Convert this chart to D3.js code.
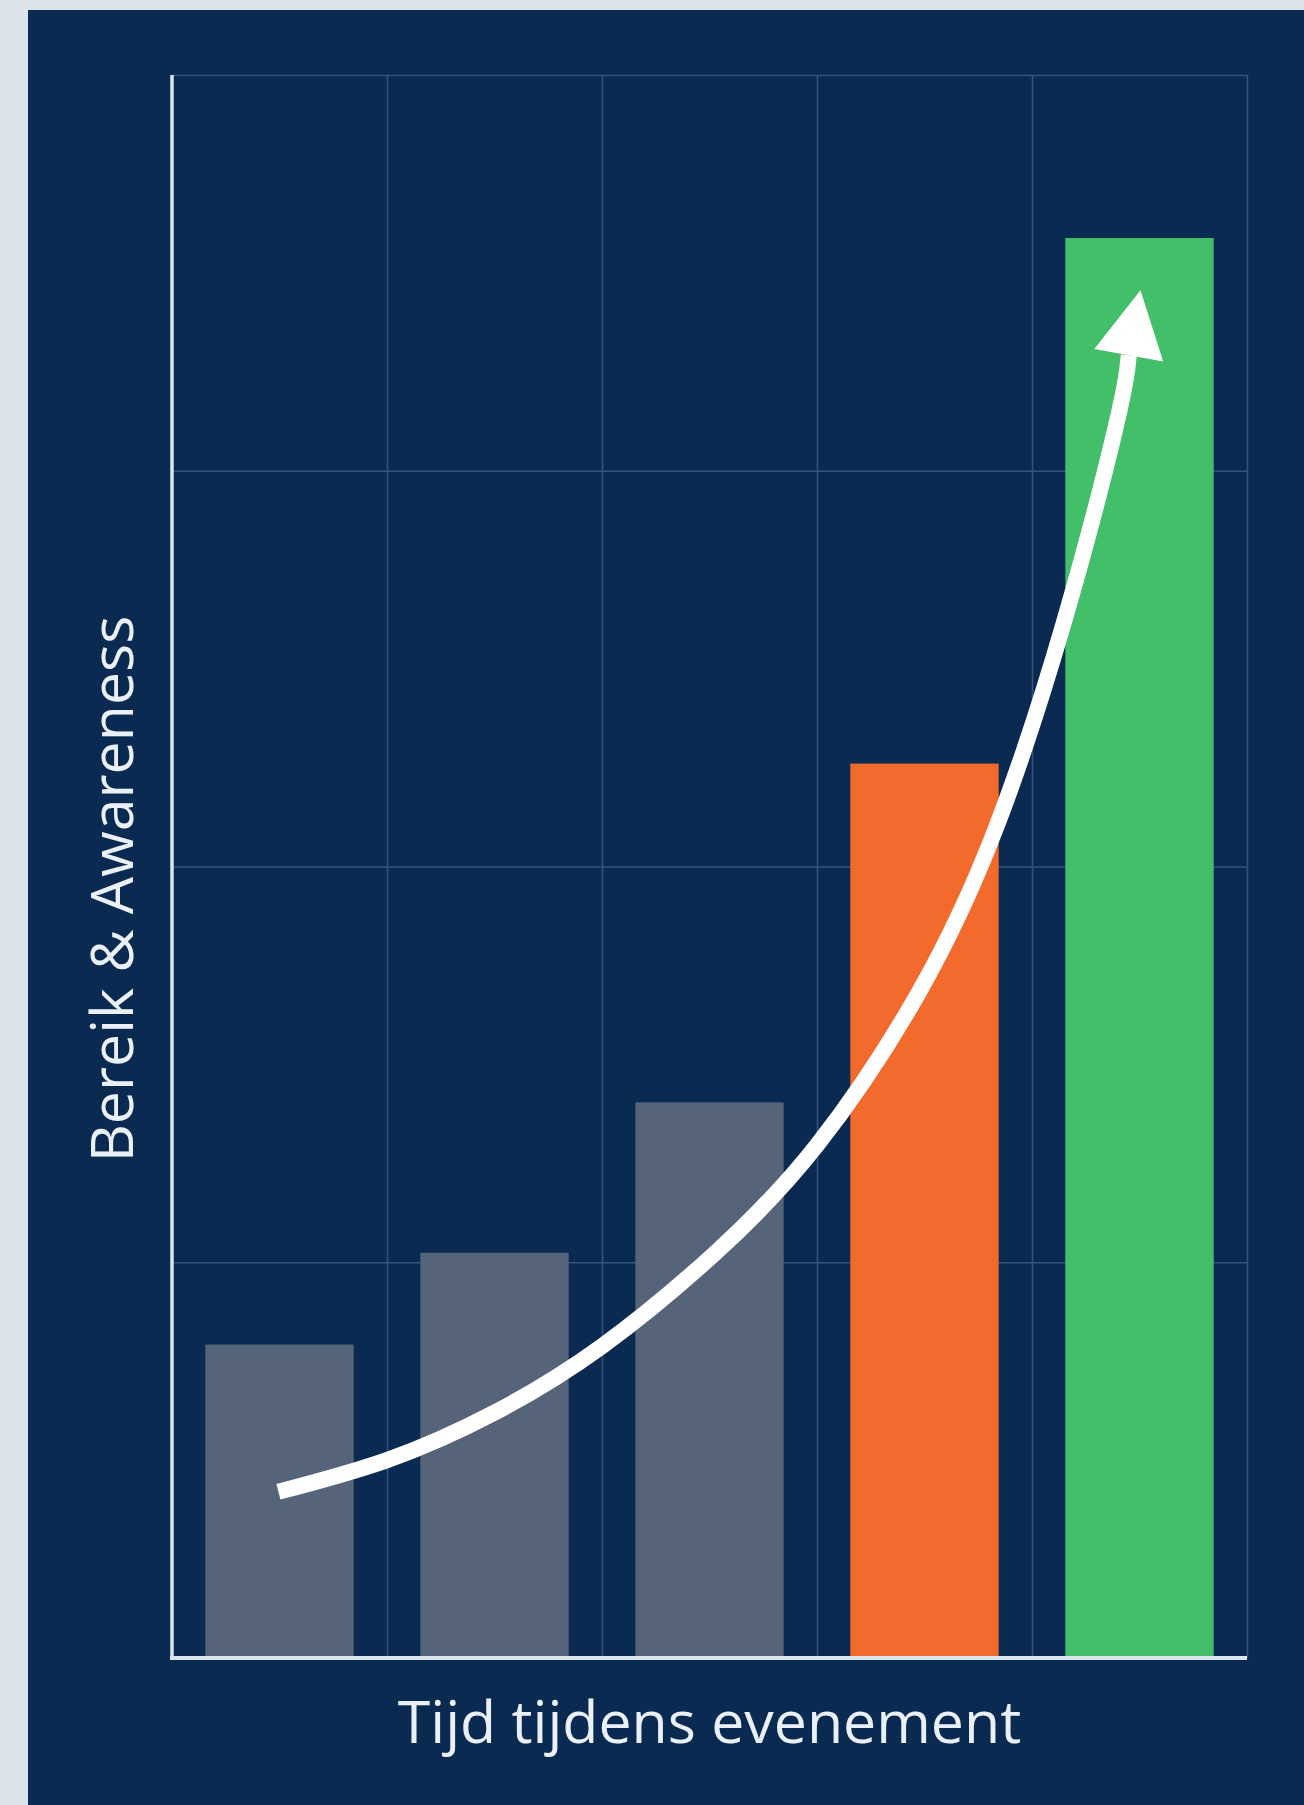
<!DOCTYPE html>
<html>
<head>
<meta charset="utf-8">
<style>
    body { margin: 0; background: #dde3ea; }
    svg { display: block; }
</style>
</head>
<body>
    <div class="graph"></div>

    <script src="https://d3js.org/d3.v7.min.js"></script>
    <script>
        // data
        var categories = ['Fase 1', 'Fase 2', 'Fase 3', 'Fase 4', 'Fase 5']
        var values = [19.8, 25.6, 35.1, 56.5, 89.7]
        var barColors = ['#566479', '#566479', '#566479', '#f26b2d', '#43bf69']
        var yTicks = [0, 25, 50, 75, 100]
        var xLabel = 'Tijd tijdens evenement'
        var yLabel = 'Bereik & Awareness'

        // trend arrow: x in category steps (0..5), y in value units
        var arrowX = [0.495, 1.0, 1.5, 2.0, 2.52, 3.0, 3.48, 3.84, 4.15, 4.39, 4.45]
        var arrowY = [10.5, 12.5, 15.5, 19.7, 25.5, 32.4, 42.2, 52.7, 65.5, 77.8, 82.3]

        var W = 1304,
            H = 1805
        var margin = { top: 75, right: 57, bottom: 147, left: 172 }

        var svg = d3.select('.graph').append('svg')
            .attr('width', W)
            .attr('height', H)

        // dark panel
        svg.append('rect')
            .attr('x', 28)
            .attr('y', 10)
            .attr('width', W - 28)
            .attr('height', H - 10)
            .attr('fill', '#0b2a51')

        var x = d3.scaleBand()
            .domain(categories)
            .range([margin.left, W - margin.right])
            .paddingInner(0.31)
            .paddingOuter(0.155)

        var xs = d3.scaleLinear()
            .domain([0, categories.length])
            .range([margin.left, W - margin.right])

        var y = d3.scaleLinear()
            .domain([0, 100])
            .range([H - margin.bottom, margin.top])

        // grid
        var grid = svg.append('g').attr('class', 'grid')

        grid.append('g')
            .attr('transform', 'translate(' + margin.left + ',0)')
            .call(d3.axisLeft(y).tickValues(yTicks.slice(1))
                .tickSize(-(W - margin.left - margin.right)).tickFormat(''))
            .call(function (g) { g.select('.domain').remove() })

        grid.append('g')
            .attr('transform', 'translate(0,' + (H - margin.bottom) + ')')
            .call(d3.axisBottom(xs).tickValues(d3.range(1, categories.length + 1))
                .tickSize(-(H - margin.top - margin.bottom)).tickFormat(''))
            .call(function (g) { g.select('.domain').remove() })

        grid.selectAll('line')
            .attr('stroke', '#35557d')
            .attr('stroke-width', 1.5)

        // bars
        svg.append('g')
            .selectAll('rect')
            .data(values)
            .enter().append('rect')
            .attr('x', function (d, i) { return x(categories[i]) })
            .attr('y', function (d) { return y(d) })
            .attr('width', x.bandwidth())
            .attr('height', function (d) { return y(0) - y(d) })
            .attr('fill', function (d, i) { return barColors[i] })

        // axes lines
        svg.append('line')
            .attr('x1', margin.left).attr('x2', margin.left)
            .attr('y1', y(100)).attr('y2', y(0))
            .attr('stroke', '#dce6ef')
            .attr('stroke-width', 3.5)

        svg.append('line')
            .attr('x1', margin.left - 2).attr('x2', W - margin.right)
            .attr('y1', y(0)).attr('y2', y(0))
            .attr('stroke', '#dce6ef')
            .attr('stroke-width', 4)

        // trend arrow
        var pts = arrowX.map(function (d, i) { return [d, arrowY[i]] })

        var line = d3.line()
            .x(function (d) { return xs(d[0]) })
            .y(function (d) { return y(d[1]) })
            .curve(d3.curveNatural)

        svg.append('path')
            .datum(pts)
            .attr('d', line)
            .attr('fill', 'none')
            .attr('stroke', '#ffffff')
            .attr('stroke-width', 16)

        var a = pts[pts.length - 2],
            b = pts[pts.length - 1]
        var bx = xs(b[0]), by = y(b[1])
        var dx = bx - xs(a[0]), dy = by - y(a[1])
        var len = Math.sqrt(dx * dx + dy * dy)
        dx /= len; dy /= len
        var headLen = 66, headHalf = 35
        var head = [
            [bx + dx * headLen, by + dy * headLen],
            [bx - dy * headHalf, by + dx * headHalf],
            [bx + dy * headHalf, by - dx * headHalf]
        ]
        svg.append('path')
            .attr('d', 'M' + head.join('L') + 'Z')
            .attr('fill', '#ffffff')

        // labels
        svg.append('text')
            .attr('x', (margin.left + W - margin.right) / 2)
            .attr('y', 1743)
            .attr('text-anchor', 'middle')
            .attr('fill', '#eaf0f6')
            .style('font-family', 'Open Sans, sans-serif')
            .style('font-size', '59px')
            .text(xLabel)

        svg.append('text')
            .attr('transform', 'translate(133,889) rotate(-90)')
            .attr('text-anchor', 'middle')
            .attr('fill', '#eaf0f6')
            .style('font-family', 'Open Sans, sans-serif')
            .style('font-size', '59px')
            .text(yLabel)
    </script>
</body>
</html>
